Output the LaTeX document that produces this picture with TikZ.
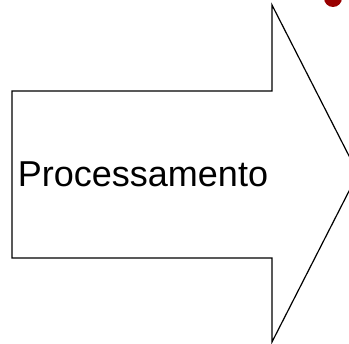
\documentclass[tikz,border=0pt]{standalone}
\usepackage{fontspec}
\setmainfont{Liberation Sans}
\usepackage{tikz}
\usepackage{xcolor}
\definecolor{pontovermelho}{RGB}{153,0,0}

\begin{document}
\begin{tikzpicture}[x=1pt, y=1pt]
    \useasboundingbox (0,0) rectangle (349,344);
    % Seta grande
    \draw[line width=1.2pt, line join=miter] (12,253) -- (272,253) -- (272,339) -- (358,170.5)
        -- (272,2) -- (272,86) -- (12,86) -- cycle;
    \node[font=\fontsize{36}{40}\selectfont, inner sep=0pt] (proc) at (143,169.5) {Processamento};
    % Marcador vermelho
    \fill[pontovermelho] (333,346) circle (9);
\end{tikzpicture}
\end{document}
